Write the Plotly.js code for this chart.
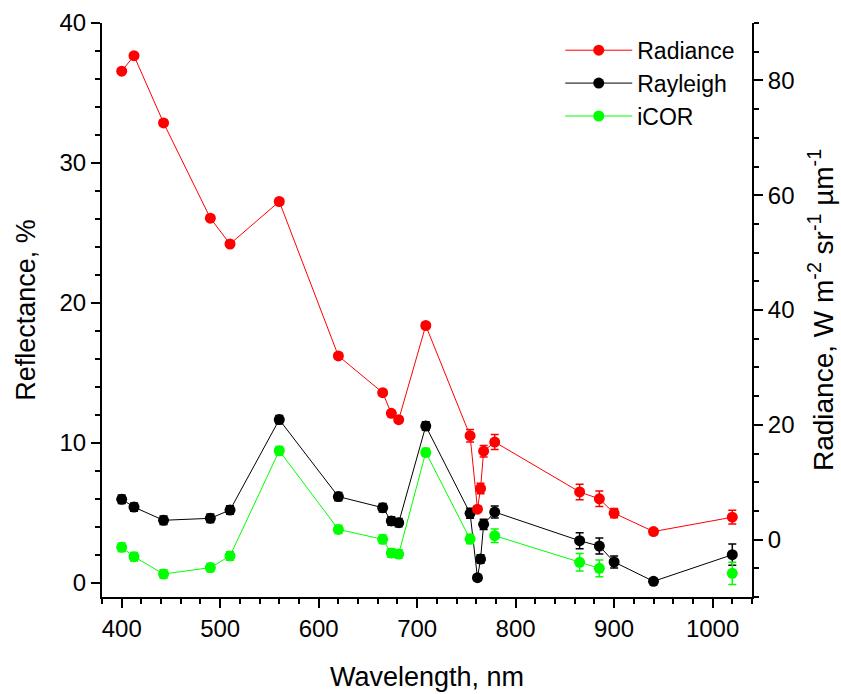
<!DOCTYPE html>
<html>
<head>
<meta charset="utf-8">
<script src="https://cdn.plot.ly/plotly-3.0.1.min.js"></script>
<style>html,body{margin:0;padding:0;background:#fff;}#chart{width:841px;height:694px;}</style>
</head>
<body>
<div id="chart"></div>
<script>
const wavelength = [400, 412.5, 442.5, 490, 510, 560, 620, 665, 673.75, 681.25, 708.75, 753.75, 761.25, 764.375, 767.5, 778.75, 865, 885, 900, 940, 1020];
const radiance = [81.6, 84.3, 72.6, 56.0, 51.5, 58.9, 32.0, 25.6, 22.0, 20.9, 37.3, 18.1, 5.3, 8.9, 15.4, 17.0, 8.3, 7.1, 4.6, 1.4, 3.9];
const radianceErr = [0.5, 0.5, 0.5, 0.5, 0.5, 0.5, 0.5, 0.5, 0.5, 0.5, 0.5, 1.1, 0.5, 0.9, 1.0, 1.3, 1.35, 1.35, 0.8, 0.5, 1.2];
const rayleigh = [5.98, 5.42, 4.48, 4.62, 5.21, 11.67, 6.17, 5.38, 4.43, 4.31, 11.21, 4.98, 0.38, 1.71, 4.19, 5.07, 3.02, 2.64, 1.5, 0.12, 2.02];
const rayleighErr = [0.3, 0.3, 0.3, 0.3, 0.3, 0.3, 0.3, 0.3, 0.3, 0.3, 0.3, 0.36, 0.2, 0.3, 0.36, 0.43, 0.57, 0.57, 0.43, 0.1, 0.76];
const icor = [2.55, 1.88, 0.64, 1.1, 1.93, 9.45, 3.83, 3.12, 2.14, 2.07, 9.33, 3.14, null, null, null, 3.38, 1.48, 1.05, null, null, 0.69];
const icorErr = [0.3, 0.3, 0.3, 0.3, 0.3, 0.3, 0.3, 0.3, 0.3, 0.3, 0.3, 0.34, null, null, null, 0.48, 0.62, 0.6, null, null, 0.79];
const seriesNames = ['Radiance', 'Rayleigh', 'iCOR'];
const seriesColors = ['#ff0000', '#000000', '#00ff00'];

const FONT = '"Liberation Sans", Arial, sans-serif';
const PAD = '\u00a0\u00a0\u00a0\u00a0\u00a0';

function mk(name, color, y, err, axis) {
  return {
    type: 'scatter', mode: 'lines+markers', name: name,
    x: wavelength, y: y, yaxis: axis,
    connectgaps: false,
    line: {color: color, width: 1},
    marker: {color: color, size: 11, symbol: 'circle'},
    error_y: {type: 'data', array: err, visible: true, color: color, thickness: 1.5, width: 4}
  };
}

const traces = [
  mk(seriesNames[0], seriesColors[0], radiance, radianceErr, 'y2'),
  mk(seriesNames[1], seriesColors[1], rayleigh, rayleighErr, 'y'),
  mk(seriesNames[2], seriesColors[2], icor, icorErr, 'y')
];

const axisCommon = {
  showgrid: false, zeroline: false, showline: true, linecolor: '#000', linewidth: 2,
  ticks: 'outside', ticklen: 9, tickwidth: 2, tickcolor: '#000',
  tickfont: {family: FONT, size: 24, color: '#000'}
};

const layout = {
  width: 841, height: 694,
  margin: {l: 102, r: 89, t: 23, b: 97},
  paper_bgcolor: '#fff', plot_bgcolor: '#fff',
  font: {family: FONT, color: '#000'},
  showlegend: true,
  legend: {x: 0.705, y: 0.99, xanchor: 'left', yanchor: 'top', bgcolor: 'rgba(0,0,0,0)',
           font: {family: FONT, size: 23, color: '#000'}, itemwidth: 67, tracegroupgap: 0},
  xaxis: Object.assign({}, axisCommon, {
    range: [380, 1040], dtick: 100, tick0: 0,
    minor: {dtick: 20, ticks: 'outside', ticklen: 5, tickwidth: 2, tickcolor: '#000'},
    title: {text: 'Wavelength, nm', font: {family: FONT, size: 27, color: '#000'}, standoff: 26}
  }),
  yaxis: Object.assign({}, axisCommon, {
    range: [-1, 40], dtick: 10, tick0: 0,
    minor: {dtick: 2, ticks: 'outside', ticklen: 5, tickwidth: 2, tickcolor: '#000'},
    title: {text: 'Reflectance, %' + PAD, font: {family: FONT, size: 27, color: '#000'}, standoff: 16}
  }),
  yaxis2: Object.assign({}, axisCommon, {
    overlaying: 'y', side: 'right',
    range: [-10, 90], dtick: 20, tick0: 0,
    minor: {dtick: 5, ticks: 'outside', ticklen: 5, tickwidth: 2, tickcolor: '#000'},
    title: {text: 'Radiance, W m<sup>-2</sup> sr<sup>-1</sup> µm<sup>-1</sup>' + '\u00a0\u00a0', font: {family: FONT, size: 28, color: '#000'}, standoff: 20}
  })
};

Plotly.newPlot('chart', traces, layout, {displayModeBar: false, staticPlot: true});
</script>
</body>
</html>
